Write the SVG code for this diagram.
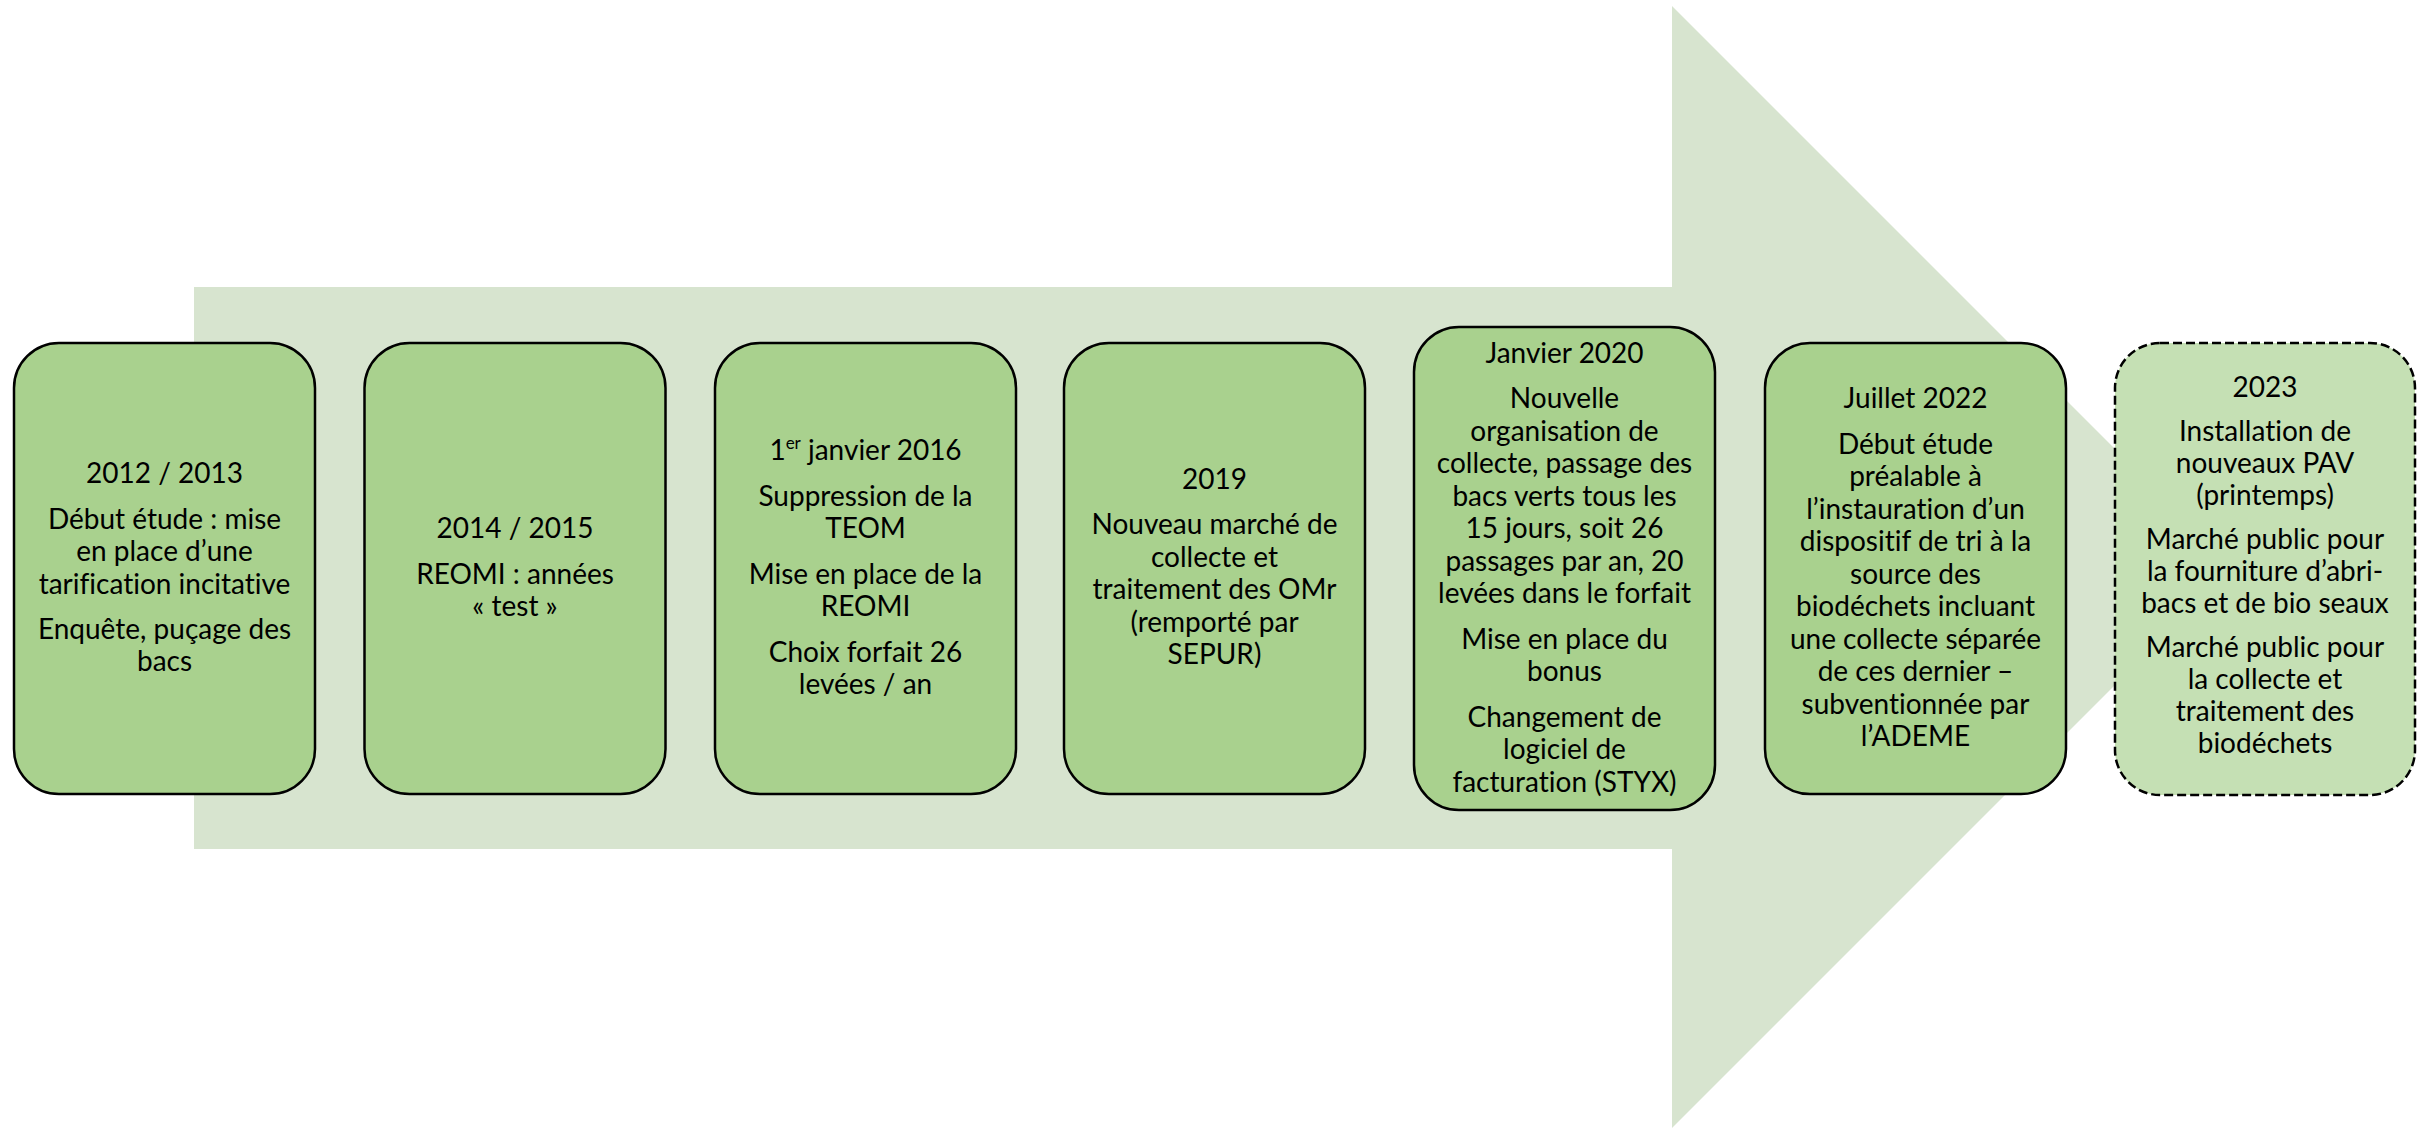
<svg xmlns="http://www.w3.org/2000/svg" width="2432" height="1129" viewBox="0 0 2432 1129">
<style>
.box{fill:#A9D18E;stroke:#000;stroke-width:2.5}
.box7{fill:#C5E0B4;stroke:#000;stroke-width:2.5;stroke-dasharray:9 4}
.t{font-family:Lato,"Liberation Sans",sans-serif;font-size:28px;fill:#000;text-anchor:middle;font-variant-ligatures:none}
.t7{font-family:Lato,"Liberation Sans",sans-serif;font-size:28px;fill:#000;text-anchor:middle;font-variant-ligatures:none}
</style>
<rect width="2432" height="1129" fill="#fff"/>
<g id="timeline-arrow">
<polygon points="194,287 1672,287 1672,6 2233,567 1672,1128 1672,849 194,849" fill="#D7E4CF"/>
</g>
<g id="connectors"></g>
<g id="n1">
<rect class="box" x="14" y="343" width="301" height="451" rx="45"/>
<text class="t"><tspan x="164.5" y="483">2012 / 2013</tspan><tspan x="164.5" y="528.5">Début étude : mise</tspan><tspan x="164.5" y="561">en place d’une</tspan><tspan x="164.5" y="593.5">tarification incitative</tspan><tspan x="164.5" y="638.5">Enquête, puçage des</tspan><tspan x="164.5" y="671">bacs</tspan></text>
</g>
<g id="n2">
<rect class="box" x="364.5" y="343" width="301" height="451" rx="45"/>
<text class="t"><tspan x="515" y="538">2014 / 2015</tspan><tspan x="515" y="583.5">REOMI : années</tspan><tspan x="515" y="616">« test »</tspan></text>
</g>
<g id="n3">
<rect class="box" x="715" y="343" width="301" height="451" rx="45"/>
<text class="t"><tspan x="865.5" y="460">1<tspan font-size="17" dy="-11">er</tspan><tspan dy="11"> janvier 2016</tspan></tspan><tspan x="865.5" y="505.5">Suppression de la</tspan><tspan x="865.5" y="538">TEOM</tspan><tspan x="865.5" y="583.5">Mise en place de la</tspan><tspan x="865.5" y="616">REOMI</tspan><tspan x="865.5" y="661.5">Choix forfait 26</tspan><tspan x="865.5" y="694">levées / an</tspan></text>
</g>
<g id="n4">
<rect class="box" x="1064" y="343" width="301" height="451" rx="45"/>
<text class="t"><tspan x="1214.5" y="488.5">2019</tspan><tspan x="1214.5" y="534">Nouveau marché de</tspan><tspan x="1214.5" y="566.5">collecte et</tspan><tspan x="1214.5" y="599">traitement des OMr</tspan><tspan x="1214.5" y="631.5">(remporté par</tspan><tspan x="1214.5" y="664">SEPUR)</tspan></text>
</g>
<g id="n5">
<rect class="box" x="1414" y="327" width="301" height="483" rx="45"/>
<text class="t"><tspan x="1564.5" y="362.5">Janvier 2020</tspan><tspan x="1564.5" y="408">Nouvelle</tspan><tspan x="1564.5" y="440.5">organisation de</tspan><tspan x="1564.5" y="473">collecte, passage des</tspan><tspan x="1564.5" y="505.5">bacs verts tous les</tspan><tspan x="1564.5" y="538">15 jours, soit 26</tspan><tspan x="1564.5" y="570.5">passages par an, 20</tspan><tspan x="1564.5" y="603">levées dans le forfait</tspan><tspan x="1564.5" y="648.5">Mise en place du</tspan><tspan x="1564.5" y="681">bonus</tspan><tspan x="1564.5" y="726.5">Changement de</tspan><tspan x="1564.5" y="759">logiciel de</tspan><tspan x="1564.5" y="791.5">facturation (STYX)</tspan></text>
</g>
<g id="n6">
<rect class="box" x="1765" y="343" width="301" height="451" rx="45"/>
<text class="t"><tspan x="1915.5" y="408">Juillet 2022</tspan><tspan x="1915.5" y="453.5">Début étude</tspan><tspan x="1915.5" y="486">préalable à</tspan><tspan x="1915.5" y="518.5">l’instauration d’un</tspan><tspan x="1915.5" y="551">dispositif de tri à la</tspan><tspan x="1915.5" y="583.5">source des</tspan><tspan x="1915.5" y="616">biodéchets incluant</tspan><tspan x="1915.5" y="648.5">une collecte séparée</tspan><tspan x="1915.5" y="681">de ces dernier –</tspan><tspan x="1915.5" y="713.5">subventionnée par</tspan><tspan x="1915.5" y="746">l’ADEME</tspan></text>
</g>
<g id="n7">
<rect class="box7" x="2115" y="343" width="300" height="452" rx="45"/>
<text class="t7"><tspan x="2265" y="397">2023</tspan><tspan x="2265" y="441">Installation de</tspan><tspan x="2265" y="473">nouveaux PAV</tspan><tspan x="2265" y="505">(printemps)</tspan><tspan x="2265" y="549">Marché public pour</tspan><tspan x="2265" y="581">la fourniture d’abri-</tspan><tspan x="2265" y="613">bacs et de bio seaux</tspan><tspan x="2265" y="657">Marché public pour</tspan><tspan x="2265" y="689">la collecte et</tspan><tspan x="2265" y="721">traitement des</tspan><tspan x="2265" y="753">biodéchets</tspan></text>
</g>
</svg>
